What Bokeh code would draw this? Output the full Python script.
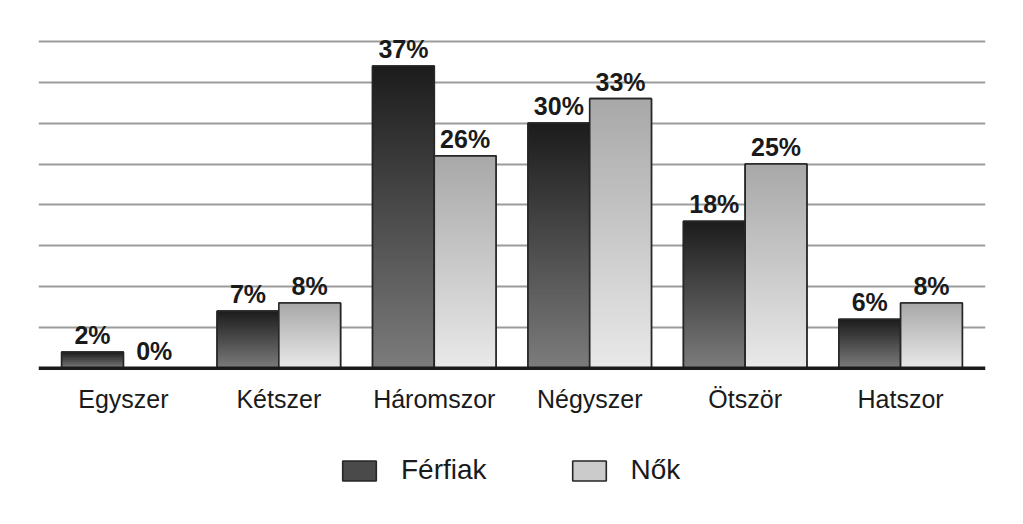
import numpy as np
from bokeh.plotting import figure
from bokeh.models import Range1d, FixedTicker, Span, Legend, LegendItem, ColumnDataSource
from bokeh.core.properties import value
from bokeh.embed import file_html
from bokeh.resources import INLINE

# ---- data ----
categories = ["Egyszer", "Kétszer", "Háromszor", "Négyszer", "Ötször", "Hatszor"]
ferfiak = [2, 7, 37, 30, 18, 6]
nok = [0, 8, 26, 33, 25, 8]
series_names = ["Férfiak", "Nők"]
grid_ticks = [5, 10, 15, 20, 25, 30, 35, 40]

# ---- style ----
FONT = "Liberation Sans"
BAR_W = 0.397
STRIP = 0.2  # strip height in data units for the gradient
MEN_TOP, MEN_BOTTOM = (28, 28, 28), (124, 124, 124)
WOMEN_TOP, WOMEN_BOTTOM = (168, 168, 168), (233, 233, 233)
MEN_FLAT, WOMEN_FLAT = "#4a4a4a", "#cbcbcb"

centers = list(range(len(categories)))

p = figure(width=1007, height=508, output_backend="svg", toolbar_location=None,
           x_range=Range1d(-0.546, len(categories) - 1 + 0.546),
           y_range=Range1d(-17.15, 43.42),
           min_border_left=38, min_border_right=22, min_border_top=13, min_border_bottom=0)
p.outline_line_color = None
p.xaxis.visible = False
p.yaxis.visible = False
p.xgrid.visible = False
p.ygrid.ticker = FixedTicker(ticks=grid_ticks)
p.ygrid.grid_line_color = "#9c9c9c"
p.ygrid.grid_line_width = 2


def gradient_strips(lefts, vals, top_rgb, bottom_rgb):
    L, R, B, T, C = [], [], [], [], []
    for xl, v in zip(lefts, vals):
        if v <= 0:
            continue
        n = max(1, int(np.ceil(v / STRIP)))
        for k in range(n):
            f = (k + 0.5) / n
            rgb = tuple(int(round(bottom_rgb[j] + (top_rgb[j] - bottom_rgb[j]) * f)) for j in range(3))
            L.append(xl)
            R.append(xl + BAR_W)
            B.append(v * k / n)
            T.append(v)  # each strip reaches the top; later strips paint over
            C.append("#%02x%02x%02x" % rgb)
    return ColumnDataSource(dict(left=L, right=R, bottom=B, top=T, color=C))


men_left = [c - BAR_W for c in centers]
women_left = [c for c in centers]

legend_renderers = []
for lefts, vals, top_rgb, bot_rgb, flat in [(men_left, ferfiak, MEN_TOP, MEN_BOTTOM, MEN_FLAT),
                                             (women_left, nok, WOMEN_TOP, WOMEN_BOTTOM, WOMEN_FLAT)]:
    rights = [l + BAR_W for l in lefts]
    base = p.quad(left=lefts, right=rights, bottom=[0] * len(vals), top=vals,
                  fill_color=flat, line_color="#262626", line_width=1.6)
    legend_renderers.append(base)
    src = gradient_strips(lefts, vals, top_rgb, bot_rgb)
    p.quad(left="left", right="right", bottom="bottom", top="top", fill_color="color",
           line_color=None, source=src)
    p.quad(left=lefts, right=rights, bottom=[0] * len(vals), top=vals,
           fill_color=None, line_color="#262626", line_width=1.6)

# baseline
p.add_layout(Span(location=0, dimension="width", line_color="#1a1a1a", line_width=3.5))

# value labels
for lefts, vals in [(men_left, ferfiak), (women_left, nok)]:
    p.text(x=[l + BAR_W / 2 for l in lefts], y=vals, text=[f"{v}%" for v in vals],
           text_align="center", text_baseline="bottom", y_offset=-3,
           text_font=value(FONT), text_font_style="bold", text_font_size="25px",
           text_color="#1a1a1a")

# category labels
p.text(x=centers, y=[-3.7] * len(categories), text=categories,
       text_align="center", text_baseline="middle",
       text_font=value(FONT), text_font_size="25px", text_color="#1a1a1a")

# legend
legend = Legend(items=[LegendItem(label=series_names[0], renderers=[legend_renderers[0]]),
                       LegendItem(label=series_names[1], renderers=[legend_renderers[1]])],
                orientation="horizontal", location=(300, 22),
                glyph_width=42, glyph_height=25, label_standoff=21, spacing=81,
                label_text_font=FONT, label_text_font_size="28px", label_text_color="#1a1a1a",
                padding=0, margin=0, border_line_color=None, background_fill_alpha=0)
p.add_layout(legend)

open("out.html", "w").write(file_html(p, INLINE))
